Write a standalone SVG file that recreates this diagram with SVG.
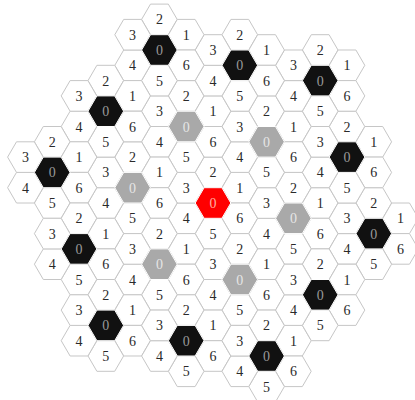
<svg xmlns="http://www.w3.org/2000/svg" xmlns:xlink="http://www.w3.org/1999/xlink" width="415" height="400" viewBox="0 0 415 400">
<style>
.w{fill:#fff;stroke:#c6c6c6;stroke-width:1}
.k{fill:#111;stroke:#fff;stroke-width:1}
.g{fill:#a9a9a9;stroke:#fff;stroke-width:1}
.r{fill:#ff0000;stroke:#fff;stroke-width:1}
text{font-family:"Liberation Serif","Times New Roman",serif;font-size:14px;text-anchor:middle;fill:#2a2a2a}
text.tk{fill:#9a9a9a}
text.tg{fill:#e6e6e6}
text.tr{fill:#ffb0a0}
</style>
<defs>
<polygon id="hx" points="-17.8,0 -8.9,-15.3 8.9,-15.3 17.8,0 8.9,15.3 -8.9,15.3"/>
</defs>
<rect width="415" height="400" fill="#fff"/>
<g id="connectors"></g>

<g id="flower-0_0" transform="translate(213,203)">
<g id="n0_0-2" transform="translate(0,-30.6)"><use href="#hx" class="w"/><text y="5">2</text></g>
<g id="n0_0-1" transform="translate(26.8,-15.3)"><use href="#hx" class="w"/><text y="5">1</text></g>
<g id="n0_0-6" transform="translate(26.8,15.3)"><use href="#hx" class="w"/><text y="5">6</text></g>
<g id="n0_0-5" transform="translate(0,30.6)"><use href="#hx" class="w"/><text y="5">5</text></g>
<g id="n0_0-4" transform="translate(-26.8,15.3)"><use href="#hx" class="w"/><text y="5">4</text></g>
<g id="n0_0-3" transform="translate(-26.8,-15.3)"><use href="#hx" class="w"/><text y="5">3</text></g>
<g id="n0_0-0"><use href="#hx" class="r"/><text y="5" class="tr">0</text></g>
</g>

<g id="flower-3_-1" transform="translate(293.4,218.3)">
<g id="n3_-1-2" transform="translate(0,-30.6)"><use href="#hx" class="w"/><text y="5">2</text></g>
<g id="n3_-1-1" transform="translate(26.8,-15.3)"><use href="#hx" class="w"/><text y="5">1</text></g>
<g id="n3_-1-6" transform="translate(26.8,15.3)"><use href="#hx" class="w"/><text y="5">6</text></g>
<g id="n3_-1-5" transform="translate(0,30.6)"><use href="#hx" class="w"/><text y="5">5</text></g>
<g id="n3_-1-4" transform="translate(-26.8,15.3)"><use href="#hx" class="w"/><text y="5">4</text></g>
<g id="n3_-1-3" transform="translate(-26.8,-15.3)"><use href="#hx" class="w"/><text y="5">3</text></g>
<g id="n3_-1-0"><use href="#hx" class="g"/><text y="5" class="tg">0</text></g>
</g>

<g id="flower-2_-3" transform="translate(266.6,141.8)">
<g id="n2_-3-2" transform="translate(0,-30.6)"><use href="#hx" class="w"/><text y="5">2</text></g>
<g id="n2_-3-1" transform="translate(26.8,-15.3)"><use href="#hx" class="w"/><text y="5">1</text></g>
<g id="n2_-3-6" transform="translate(26.8,15.3)"><use href="#hx" class="w"/><text y="5">6</text></g>
<g id="n2_-3-5" transform="translate(0,30.6)"><use href="#hx" class="w"/><text y="5">5</text></g>
<g id="n2_-3-4" transform="translate(-26.8,15.3)"><use href="#hx" class="w"/><text y="5">4</text></g>
<g id="n2_-3-3" transform="translate(-26.8,-15.3)"><use href="#hx" class="w"/><text y="5">3</text></g>
<g id="n2_-3-0"><use href="#hx" class="g"/><text y="5" class="tg">0</text></g>
</g>

<g id="flower--1_-2" transform="translate(186.2,126.5)">
<g id="n-1_-2-2" transform="translate(0,-30.6)"><use href="#hx" class="w"/><text y="5">2</text></g>
<g id="n-1_-2-1" transform="translate(26.8,-15.3)"><use href="#hx" class="w"/><text y="5">1</text></g>
<g id="n-1_-2-6" transform="translate(26.8,15.3)"><use href="#hx" class="w"/><text y="5">6</text></g>
<g id="n-1_-2-5" transform="translate(0,30.6)"><use href="#hx" class="w"/><text y="5">5</text></g>
<g id="n-1_-2-4" transform="translate(-26.8,15.3)"><use href="#hx" class="w"/><text y="5">4</text></g>
<g id="n-1_-2-3" transform="translate(-26.8,-15.3)"><use href="#hx" class="w"/><text y="5">3</text></g>
<g id="n-1_-2-0"><use href="#hx" class="g"/><text y="5" class="tg">0</text></g>
</g>

<g id="flower--3_1" transform="translate(132.6,187.7)">
<g id="n-3_1-2" transform="translate(0,-30.6)"><use href="#hx" class="w"/><text y="5">2</text></g>
<g id="n-3_1-1" transform="translate(26.8,-15.3)"><use href="#hx" class="w"/><text y="5">1</text></g>
<g id="n-3_1-6" transform="translate(26.8,15.3)"><use href="#hx" class="w"/><text y="5">6</text></g>
<g id="n-3_1-5" transform="translate(0,30.6)"><use href="#hx" class="w"/><text y="5">5</text></g>
<g id="n-3_1-4" transform="translate(-26.8,15.3)"><use href="#hx" class="w"/><text y="5">4</text></g>
<g id="n-3_1-3" transform="translate(-26.8,-15.3)"><use href="#hx" class="w"/><text y="5">3</text></g>
<g id="n-3_1-0"><use href="#hx" class="g"/><text y="5" class="tg">0</text></g>
</g>

<g id="flower--2_3" transform="translate(159.4,264.2)">
<g id="n-2_3-2" transform="translate(0,-30.6)"><use href="#hx" class="w"/><text y="5">2</text></g>
<g id="n-2_3-1" transform="translate(26.8,-15.3)"><use href="#hx" class="w"/><text y="5">1</text></g>
<g id="n-2_3-6" transform="translate(26.8,15.3)"><use href="#hx" class="w"/><text y="5">6</text></g>
<g id="n-2_3-5" transform="translate(0,30.6)"><use href="#hx" class="w"/><text y="5">5</text></g>
<g id="n-2_3-4" transform="translate(-26.8,15.3)"><use href="#hx" class="w"/><text y="5">4</text></g>
<g id="n-2_3-3" transform="translate(-26.8,-15.3)"><use href="#hx" class="w"/><text y="5">3</text></g>
<g id="n-2_3-0"><use href="#hx" class="g"/><text y="5" class="tg">0</text></g>
</g>

<g id="flower-1_2" transform="translate(239.8,279.5)">
<g id="n1_2-2" transform="translate(0,-30.6)"><use href="#hx" class="w"/><text y="5">2</text></g>
<g id="n1_2-1" transform="translate(26.8,-15.3)"><use href="#hx" class="w"/><text y="5">1</text></g>
<g id="n1_2-6" transform="translate(26.8,15.3)"><use href="#hx" class="w"/><text y="5">6</text></g>
<g id="n1_2-5" transform="translate(0,30.6)"><use href="#hx" class="w"/><text y="5">5</text></g>
<g id="n1_2-4" transform="translate(-26.8,15.3)"><use href="#hx" class="w"/><text y="5">4</text></g>
<g id="n1_2-3" transform="translate(-26.8,-15.3)"><use href="#hx" class="w"/><text y="5">3</text></g>
<g id="n1_2-0"><use href="#hx" class="g"/><text y="5" class="tg">0</text></g>
</g>

<g id="flower-6_-2" transform="translate(373.8,233.6)">
<g id="n6_-2-2" transform="translate(0,-30.6)"><use href="#hx" class="w"/><text y="5">2</text></g>
<g id="n6_-2-1" transform="translate(26.8,-15.3)"><use href="#hx" class="w"/><text y="5">1</text></g>
<g id="n6_-2-6" transform="translate(26.8,15.3)"><use href="#hx" class="w"/><text y="5">6</text></g>
<g id="n6_-2-5" transform="translate(0,30.6)"><use href="#hx" class="w"/><text y="5">5</text></g>
<g id="n6_-2-4" transform="translate(-26.8,15.3)"><use href="#hx" class="w"/><text y="5">4</text></g>
<g id="n6_-2-3" transform="translate(-26.8,-15.3)"><use href="#hx" class="w"/><text y="5">3</text></g>
<g id="n6_-2-0"><use href="#hx" class="k"/><text y="5" class="tk">0</text></g>
</g>

<g id="flower-5_-4" transform="translate(347,157.1)">
<g id="n5_-4-2" transform="translate(0,-30.6)"><use href="#hx" class="w"/><text y="5">2</text></g>
<g id="n5_-4-1" transform="translate(26.8,-15.3)"><use href="#hx" class="w"/><text y="5">1</text></g>
<g id="n5_-4-6" transform="translate(26.8,15.3)"><use href="#hx" class="w"/><text y="5">6</text></g>
<g id="n5_-4-5" transform="translate(0,30.6)"><use href="#hx" class="w"/><text y="5">5</text></g>
<g id="n5_-4-4" transform="translate(-26.8,15.3)"><use href="#hx" class="w"/><text y="5">4</text></g>
<g id="n5_-4-3" transform="translate(-26.8,-15.3)"><use href="#hx" class="w"/><text y="5">3</text></g>
<g id="n5_-4-0"><use href="#hx" class="k"/><text y="5" class="tk">0</text></g>
</g>

<g id="flower-4_-6" transform="translate(320.2,80.6)">
<g id="n4_-6-2" transform="translate(0,-30.6)"><use href="#hx" class="w"/><text y="5">2</text></g>
<g id="n4_-6-1" transform="translate(26.8,-15.3)"><use href="#hx" class="w"/><text y="5">1</text></g>
<g id="n4_-6-6" transform="translate(26.8,15.3)"><use href="#hx" class="w"/><text y="5">6</text></g>
<g id="n4_-6-5" transform="translate(0,30.6)"><use href="#hx" class="w"/><text y="5">5</text></g>
<g id="n4_-6-4" transform="translate(-26.8,15.3)"><use href="#hx" class="w"/><text y="5">4</text></g>
<g id="n4_-6-3" transform="translate(-26.8,-15.3)"><use href="#hx" class="w"/><text y="5">3</text></g>
<g id="n4_-6-0"><use href="#hx" class="k"/><text y="5" class="tk">0</text></g>
</g>

<g id="flower-1_-5" transform="translate(239.8,65.3)">
<g id="n1_-5-2" transform="translate(0,-30.6)"><use href="#hx" class="w"/><text y="5">2</text></g>
<g id="n1_-5-1" transform="translate(26.8,-15.3)"><use href="#hx" class="w"/><text y="5">1</text></g>
<g id="n1_-5-6" transform="translate(26.8,15.3)"><use href="#hx" class="w"/><text y="5">6</text></g>
<g id="n1_-5-5" transform="translate(0,30.6)"><use href="#hx" class="w"/><text y="5">5</text></g>
<g id="n1_-5-4" transform="translate(-26.8,15.3)"><use href="#hx" class="w"/><text y="5">4</text></g>
<g id="n1_-5-3" transform="translate(-26.8,-15.3)"><use href="#hx" class="w"/><text y="5">3</text></g>
<g id="n1_-5-0"><use href="#hx" class="k"/><text y="5" class="tk">0</text></g>
</g>

<g id="flower--2_-4" transform="translate(159.4,50)">
<g id="n-2_-4-2" transform="translate(0,-30.6)"><use href="#hx" class="w"/><text y="5">2</text></g>
<g id="n-2_-4-1" transform="translate(26.8,-15.3)"><use href="#hx" class="w"/><text y="5">1</text></g>
<g id="n-2_-4-6" transform="translate(26.8,15.3)"><use href="#hx" class="w"/><text y="5">6</text></g>
<g id="n-2_-4-5" transform="translate(0,30.6)"><use href="#hx" class="w"/><text y="5">5</text></g>
<g id="n-2_-4-4" transform="translate(-26.8,15.3)"><use href="#hx" class="w"/><text y="5">4</text></g>
<g id="n-2_-4-3" transform="translate(-26.8,-15.3)"><use href="#hx" class="w"/><text y="5">3</text></g>
<g id="n-2_-4-0"><use href="#hx" class="k"/><text y="5" class="tk">0</text></g>
</g>

<g id="flower--4_-1" transform="translate(105.8,111.2)">
<g id="n-4_-1-2" transform="translate(0,-30.6)"><use href="#hx" class="w"/><text y="5">2</text></g>
<g id="n-4_-1-1" transform="translate(26.8,-15.3)"><use href="#hx" class="w"/><text y="5">1</text></g>
<g id="n-4_-1-6" transform="translate(26.8,15.3)"><use href="#hx" class="w"/><text y="5">6</text></g>
<g id="n-4_-1-5" transform="translate(0,30.6)"><use href="#hx" class="w"/><text y="5">5</text></g>
<g id="n-4_-1-4" transform="translate(-26.8,15.3)"><use href="#hx" class="w"/><text y="5">4</text></g>
<g id="n-4_-1-3" transform="translate(-26.8,-15.3)"><use href="#hx" class="w"/><text y="5">3</text></g>
<g id="n-4_-1-0"><use href="#hx" class="k"/><text y="5" class="tk">0</text></g>
</g>

<g id="flower--6_2" transform="translate(52.2,172.4)">
<g id="n-6_2-2" transform="translate(0,-30.6)"><use href="#hx" class="w"/><text y="5">2</text></g>
<g id="n-6_2-1" transform="translate(26.8,-15.3)"><use href="#hx" class="w"/><text y="5">1</text></g>
<g id="n-6_2-6" transform="translate(26.8,15.3)"><use href="#hx" class="w"/><text y="5">6</text></g>
<g id="n-6_2-5" transform="translate(0,30.6)"><use href="#hx" class="w"/><text y="5">5</text></g>
<g id="n-6_2-4" transform="translate(-26.8,15.3)"><use href="#hx" class="w"/><text y="5">4</text></g>
<g id="n-6_2-3" transform="translate(-26.8,-15.3)"><use href="#hx" class="w"/><text y="5">3</text></g>
<g id="n-6_2-0"><use href="#hx" class="k"/><text y="5" class="tk">0</text></g>
</g>

<g id="flower--5_4" transform="translate(79,248.9)">
<g id="n-5_4-2" transform="translate(0,-30.6)"><use href="#hx" class="w"/><text y="5">2</text></g>
<g id="n-5_4-1" transform="translate(26.8,-15.3)"><use href="#hx" class="w"/><text y="5">1</text></g>
<g id="n-5_4-6" transform="translate(26.8,15.3)"><use href="#hx" class="w"/><text y="5">6</text></g>
<g id="n-5_4-5" transform="translate(0,30.6)"><use href="#hx" class="w"/><text y="5">5</text></g>
<g id="n-5_4-4" transform="translate(-26.8,15.3)"><use href="#hx" class="w"/><text y="5">4</text></g>
<g id="n-5_4-3" transform="translate(-26.8,-15.3)"><use href="#hx" class="w"/><text y="5">3</text></g>
<g id="n-5_4-0"><use href="#hx" class="k"/><text y="5" class="tk">0</text></g>
</g>

<g id="flower--4_6" transform="translate(105.8,325.4)">
<g id="n-4_6-2" transform="translate(0,-30.6)"><use href="#hx" class="w"/><text y="5">2</text></g>
<g id="n-4_6-1" transform="translate(26.8,-15.3)"><use href="#hx" class="w"/><text y="5">1</text></g>
<g id="n-4_6-6" transform="translate(26.8,15.3)"><use href="#hx" class="w"/><text y="5">6</text></g>
<g id="n-4_6-5" transform="translate(0,30.6)"><use href="#hx" class="w"/><text y="5">5</text></g>
<g id="n-4_6-4" transform="translate(-26.8,15.3)"><use href="#hx" class="w"/><text y="5">4</text></g>
<g id="n-4_6-3" transform="translate(-26.8,-15.3)"><use href="#hx" class="w"/><text y="5">3</text></g>
<g id="n-4_6-0"><use href="#hx" class="k"/><text y="5" class="tk">0</text></g>
</g>

<g id="flower--1_5" transform="translate(186.2,340.7)">
<g id="n-1_5-2" transform="translate(0,-30.6)"><use href="#hx" class="w"/><text y="5">2</text></g>
<g id="n-1_5-1" transform="translate(26.8,-15.3)"><use href="#hx" class="w"/><text y="5">1</text></g>
<g id="n-1_5-6" transform="translate(26.8,15.3)"><use href="#hx" class="w"/><text y="5">6</text></g>
<g id="n-1_5-5" transform="translate(0,30.6)"><use href="#hx" class="w"/><text y="5">5</text></g>
<g id="n-1_5-4" transform="translate(-26.8,15.3)"><use href="#hx" class="w"/><text y="5">4</text></g>
<g id="n-1_5-3" transform="translate(-26.8,-15.3)"><use href="#hx" class="w"/><text y="5">3</text></g>
<g id="n-1_5-0"><use href="#hx" class="k"/><text y="5" class="tk">0</text></g>
</g>

<g id="flower-2_4" transform="translate(266.6,356)">
<g id="n2_4-2" transform="translate(0,-30.6)"><use href="#hx" class="w"/><text y="5">2</text></g>
<g id="n2_4-1" transform="translate(26.8,-15.3)"><use href="#hx" class="w"/><text y="5">1</text></g>
<g id="n2_4-6" transform="translate(26.8,15.3)"><use href="#hx" class="w"/><text y="5">6</text></g>
<g id="n2_4-5" transform="translate(0,30.6)"><use href="#hx" class="w"/><text y="5">5</text></g>
<g id="n2_4-4" transform="translate(-26.8,15.3)"><use href="#hx" class="w"/><text y="5">4</text></g>
<g id="n2_4-3" transform="translate(-26.8,-15.3)"><use href="#hx" class="w"/><text y="5">3</text></g>
<g id="n2_4-0"><use href="#hx" class="k"/><text y="5" class="tk">0</text></g>
</g>

<g id="flower-4_1" transform="translate(320.2,294.8)">
<g id="n4_1-2" transform="translate(0,-30.6)"><use href="#hx" class="w"/><text y="5">2</text></g>
<g id="n4_1-1" transform="translate(26.8,-15.3)"><use href="#hx" class="w"/><text y="5">1</text></g>
<g id="n4_1-6" transform="translate(26.8,15.3)"><use href="#hx" class="w"/><text y="5">6</text></g>
<g id="n4_1-5" transform="translate(0,30.6)"><use href="#hx" class="w"/><text y="5">5</text></g>
<g id="n4_1-4" transform="translate(-26.8,15.3)"><use href="#hx" class="w"/><text y="5">4</text></g>
<g id="n4_1-3" transform="translate(-26.8,-15.3)"><use href="#hx" class="w"/><text y="5">3</text></g>
<g id="n4_1-0"><use href="#hx" class="k"/><text y="5" class="tk">0</text></g>
</g>
</svg>
